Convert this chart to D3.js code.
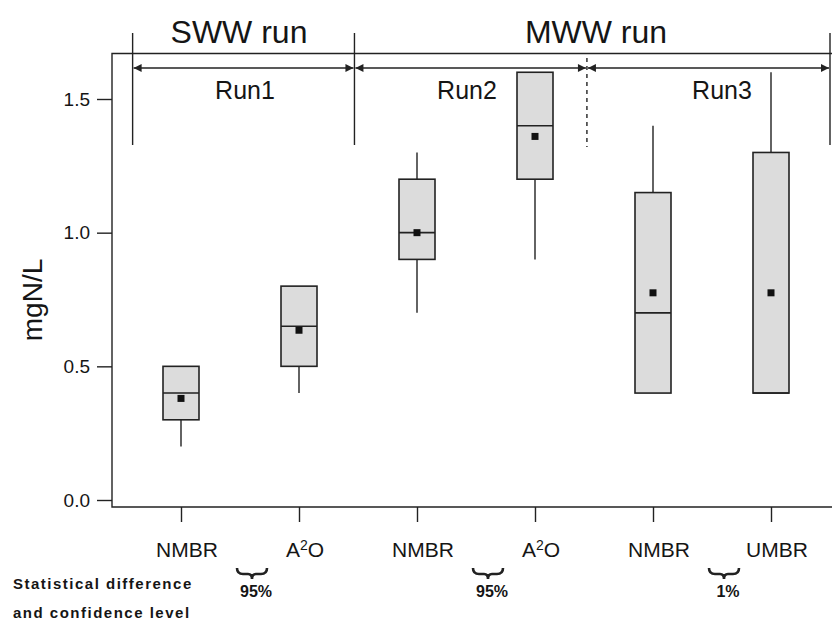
<!DOCTYPE html>
<html>
<head>
<meta charset="utf-8">
<script src="https://cdn.jsdelivr.net/npm/d3@7"></script>
<style>
  html, body { margin: 0; padding: 0; background: #ffffff; }
  svg { display: block; }
  text { font-family: "Liberation Sans", Arial, sans-serif; fill: #151515; }
</style>
</head>
<body>
<svg id="chart" width="832" height="622"></svg>
<script>
// ---------- data ----------
const categories = ["NMBR", "A2O", "NMBR", "A2O", "NMBR", "UMBR"];
const whiskerLow  = [0.20, 0.40, 0.70, 0.90, 0.40, 0.40];
const q1          = [0.30, 0.50, 0.90, 1.20, 0.40, 0.40];
const medians     = [0.40, 0.65, 1.00, 1.40, 0.70, 0.40];
const q3          = [0.50, 0.80, 1.20, 1.60, 1.15, 1.30];
const whiskerHigh = [0.50, 0.80, 1.30, 1.60, 1.40, 1.60];
const means       = [0.38, 0.635, 1.00, 1.36, 0.775, 0.775];
const yTicks = [0.0, 0.5, 1.0, 1.5];

const groups = ["SWW run", "MWW run"];
const runs = ["Run1", "Run2", "Run3"];
// run boundaries in category-index units
const runBounds = [-0.41, 1.47, 3.44, 5.5];
const comparisons = [[0, 1, "95%"], [2, 3, "95%"], [4, 5, "1%"]];
const noteLines = ["Statistical difference", "and confidence level"];

// ---------- scales ----------
const svg = d3.select("#chart");
const x = d3.scaleLinear().domain([0, 5]).range([181, 771]);
const y = d3.scaleLinear().domain([0, 1.5]).range([500, 99]);
const yTop = y(1.67), yBottom = 507, xLeft = 112, xRight = 900;
const ink = "#222";

// ---------- frame ----------
svg.append("path")
  .attr("d", `M${xRight},${yTop}H${xLeft}V${yBottom}H${xRight}`)
  .attr("fill", "none").attr("stroke", ink).attr("stroke-width", 1.4);

// y axis
const yAxis = svg.append("g").attr("transform", `translate(${xLeft},0)`)
  .call(d3.axisLeft(y).tickValues(yTicks).tickFormat(d3.format(".1f")).tickSize(15).tickPadding(7));
yAxis.select(".domain").remove();
yAxis.selectAll("line").attr("stroke", ink).attr("stroke-width", 1.4);
yAxis.selectAll("text").attr("font-size", 19).attr("fill", "#151515")
  .attr("font-family", "Liberation Sans, Arial, sans-serif");

// x axis ticks
const xAxis = svg.append("g").attr("transform", `translate(0,${yBottom})`)
  .call(d3.axisBottom(x).tickValues(d3.range(categories.length)).tickFormat("").tickSize(15));
xAxis.select(".domain").remove();
xAxis.selectAll("line").attr("stroke", ink).attr("stroke-width", 1.4);

// x labels (with superscript for A2O)
categories.forEach((c, i) => {
  const t = svg.append("text").attr("x", x(i) + 6).attr("y", 557)
    .attr("text-anchor", "middle").attr("font-size", 21);
  if (c === "A2O") {
    t.append("tspan").text("A");
    t.append("tspan").text("2").attr("font-size", 14).attr("dy", -7);
    t.append("tspan").text("O").attr("dy", 7);
  } else {
    t.text(c);
  }
});

// y label
svg.append("text").attr("transform", "translate(42,300) rotate(-90)")
  .attr("text-anchor", "middle").attr("font-size", 28).text("mgN/L");

// ---------- boxes ----------
const bw = 36;
const box = svg.append("g");
categories.forEach((c, i) => {
  const cx = x(i);
  box.append("line").attr("x1", cx).attr("x2", cx)
    .attr("y1", y(q3[i])).attr("y2", y(whiskerHigh[i]))
    .attr("stroke", ink).attr("stroke-width", 1.4);
  box.append("line").attr("x1", cx).attr("x2", cx)
    .attr("y1", y(q1[i])).attr("y2", y(whiskerLow[i]))
    .attr("stroke", ink).attr("stroke-width", 1.4);
  box.append("rect").attr("x", cx - bw / 2).attr("width", bw)
    .attr("y", y(q3[i])).attr("height", y(q1[i]) - y(q3[i]))
    .attr("fill", "#dcdcdc").attr("stroke", ink).attr("stroke-width", 1.6);
  box.append("line").attr("x1", cx - bw / 2).attr("x2", cx + bw / 2)
    .attr("y1", y(medians[i])).attr("y2", y(medians[i]))
    .attr("stroke", ink).attr("stroke-width", 1.6);
  box.append("rect").attr("x", cx - 3.5).attr("y", y(means[i]) - 3.5)
    .attr("width", 7).attr("height", 7).attr("fill", "#111");
});

// ---------- run annotations ----------
const defs = svg.append("defs");
defs.append("marker").attr("id", "ah").attr("viewBox", "0 0 10 10")
  .attr("refX", 10).attr("refY", 5).attr("markerWidth", 10).attr("markerHeight", 8)
  .attr("markerUnits", "userSpaceOnUse").attr("orient", "auto-start-reverse")
  .append("path").attr("d", "M0,0L10,5L0,10Z").attr("fill", ink);

const bx = runBounds.map(b => x(b));
[0, 1, 3].forEach(k => {
  svg.append("line").attr("x1", bx[k]).attr("x2", bx[k])
    .attr("y1", 33).attr("y2", 145)
    .attr("stroke", ink).attr("stroke-width", 1.4);
});
svg.append("line").attr("x1", bx[2]).attr("x2", bx[2])
  .attr("y1", 58).attr("y2", 147)
  .attr("stroke", ink).attr("stroke-width", 1.4).attr("stroke-dasharray", "4,4");

runs.forEach((r, k) => {
  svg.append("line").attr("x1", bx[k] + 1).attr("x2", bx[k + 1] - 1)
    .attr("y1", 68).attr("y2", 68)
    .attr("stroke", ink).attr("stroke-width", 1.4)
    .attr("marker-start", "url(#ah)").attr("marker-end", "url(#ah)");
});
const runLabelX = [245, 467, 722];
runs.forEach((r, k) => {
  svg.append("text").attr("x", runLabelX[k]).attr("y", 99)
    .attr("text-anchor", "middle").attr("font-size", 25).text(r);
});
const groupLabelX = [239, 596];
groups.forEach((g, k) => {
  svg.append("text").attr("x", groupLabelX[k]).attr("y", 43)
    .attr("text-anchor", "middle").attr("font-size", 32).text(g);
});

// ---------- statistical notes ----------
comparisons.forEach(([a, b, label]) => {
  const cx = (x(a) + x(b)) / 2 + 12;
  const w = 15;
  svg.append("path")
    .attr("d", `M${cx - w},568 Q${cx - w},574 ${cx - w + 6},574 L${cx - 4},574 Q${cx},574 ${cx},579 Q${cx},574 ${cx + 4},574 L${cx + w - 6},574 Q${cx + w},574 ${cx + w},568`)
    .attr("fill", "none").attr("stroke", ink).attr("stroke-width", 2.6);
  svg.append("text").attr("x", cx + 4).attr("y", 597)
    .attr("text-anchor", "middle").attr("font-size", 16).attr("font-weight", "bold").text(label);
});
noteLines.forEach((t, k) => {
  svg.append("text").attr("x", 13).attr("y", 589 + k * 29)
    .attr("font-size", 15).attr("font-weight", "bold").attr("letter-spacing", 1.5).text(t);
});
</script>
</body>
</html>
